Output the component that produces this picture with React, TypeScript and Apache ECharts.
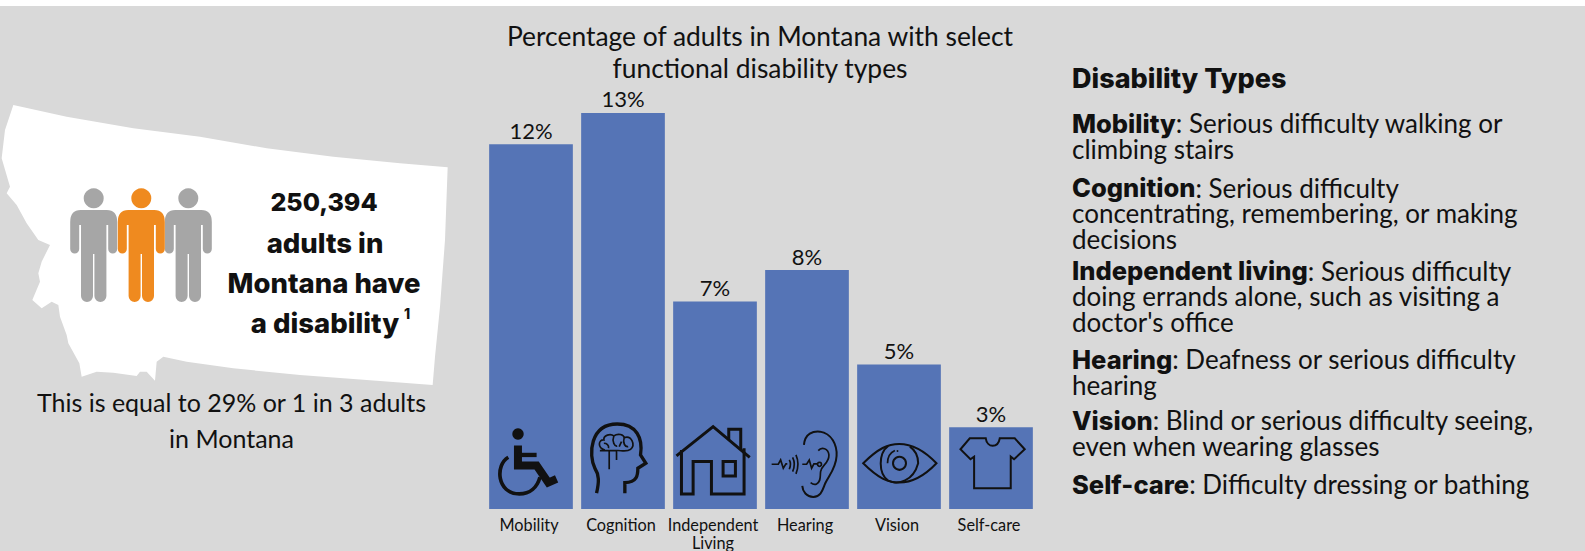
import React, { useEffect, useRef } from "react";
import * as echarts from "echarts";

const categories = ["Mobility", "Cognition", "Independent\nLiving", "Hearing", "Vision", "Self-care"];
const percentages = [12, 13, 7, 8, 5, 3];
const titleLines = ["Percentage of adults in Montana with select", "functional disability types"];
const statLines = ["250,394", "adults in", "Montana have", "a disability"];
const noteLines = ["This is equal to 29% or 1 in 3 adults", "in Montana"];
const definitions: [string, string, string[], number][] = [
  ["Mobility", ": Serious difficulty walking or", ["climbing stairs"], 136],
  ["Cognition", ": Serious difficulty", ["concentrating, remembering, or making", "decisions"], 213.4],
  ["Independent living", ": Serious difficulty", ["doing errands alone, such as visiting a", "doctor's office"], 296.1],
  ["Hearing", ": Deafness or serious difficulty", ["hearing"], 372],
  ["Vision", ": Blind or serious difficulty seeing,", ["even when wearing glasses"], 433],
  ["Self-care", ": Difficulty dressing or bathing", [], 484],
];

const LIGHT = "Lato";
const BOLD = "Inter";
const INK = "#111111";

const montana = [[40,45],[200,80],[400,115],[600,140],[800,175],[1000,200],[1200,220],[1343,232],[1335,450],[1320,650],[1305,800],[1298,885],[1100,870],[900,855],[700,835],[560,815],[490,800],[470,815],[465,872],[440,845],[420,845],[410,858],[340,848],[290,845],[245,860],[238,820],[205,760],[200,735],[180,680],[175,645],[155,635],[125,655],[97,630],[120,575],[115,550],[125,515],[150,465],[115,450],[80,400],[50,345],[20,310],[30,290],[5,205],[15,120]];

const shapes: Record<string, string> = {
  person: "M-13,0 H13 Q23.5,0 23.5,12 V39 A4.5,4.5 0 0 1 14.5,39 V15 H12.7 V86 A6,6 0 0 1 0.7,86 V44 H-0.7 V86 A6,6 0 0 1 -12.7,86 V15 H-14.5 V39 A4.5,4.5 0 0 1 -23.5,39 V12 Q-23.5,0 -13,0 Z",
  chairBody: "M114,137 V197 H170 L205,248 L230,237",
  chairArm: "M114,165 H170",
  chairWheel: "M85,172 C45,195 50,282 118,282 C150,282 172,262 180,232",
  brainHead: "M350,280 C358,245 358,225 345,205 C325,165 330,72 412,72 C470,72 490,115 482,165 L498,190 L474,205 C474,225 472,248 435,248 V280",
  brainLines: "M375,150 C352,145 355,118 372,120 C370,105 392,100 402,108 C415,98 432,105 433,113 C455,105 468,135 452,148 C440,158 420,150 410,152 H360 M388,208 V152 M410,180 V152 M402,108 C395,125 405,140 412,138 M433,113 C428,130 436,142 445,140 M372,130 C380,130 388,135 386,145 M425,125 L418,140",
  roof: "M590,168 L700,80 L810,172",
  chimney: "M747,118 V88 H783 V150",
  walls: "M605,150 V282 H640 V185 H695 V282 H793 V145",
  window: "M730,185 H767 V228 H730 Z",
  earOuter: "M162,135 C165,100 190,93 210,95 C245,100 262,135 260,168 C258,205 238,225 226,250 C218,268 215,290 190,291 C170,291 158,275 157,258",
  earInner: "M205,152 C215,140 235,145 237,165 C238,190 215,195 212,215 C210,230 214,245 200,252 C193,256 187,252 182,248",
  earSound: "M65,193 H85 L92,180 L100,205 L108,192 H112 M118,180 Q125,192 118,208 M128,172 Q138,192 128,215 M138,165 Q150,192 138,222 M157,193 H170 L178,180 L185,205 L192,192 H203",
  eyeLid: "M340,190 C385,145 415,132 448,132 C485,132 520,148 560,190 C520,232 485,248 448,248 C415,248 385,235 340,190 Z",
  eyeIris: "M415,138 C385,160 385,222 415,242 C445,255 490,245 505,190 C505,165 495,150 480,140",
  eyeGlint: "M413,190 C413,170 422,158 435,152",
  shirt: "M660,115 H708 C712,145 745,145 750,115 H795 L825,148 L793,178 L783,170 V265 H673 V170 L662,178 L632,148 Z",
};
for (const name of Object.keys(shapes)) {
  echarts.graphic.registerShape(name, echarts.graphic.extendPath(shapes[name] as any, {}));
}

const TOP = 10;

function text(t: string, x: number, y: number, size: number, weight: number, align: string = "center", fill: string = INK) {
  return { type: "text", z: TOP, x, y, style: { text: t, x: 0, y: 0, fill, font: `${weight} ${size}px ${weight > 500 ? BOLD : LIGHT}`, align, verticalAlign: "middle" } };
}
function stroke(name: string, ox: number, lw: number) {
  return { type: name, z: TOP, x: ox, y: 400, scaleX: 1 / 3, scaleY: 1 / 3, style: { fill: "none", stroke: "#111111", lineWidth: lw, lineJoin: "miter" } };
}
function dot(cx: number, cy: number, r: number, fill = "#111111") {
  return { type: "circle", z: TOP, shape: { cx, cy, r }, style: { fill } };
}
function ringDot(cx: number, cy: number, r: number, lw: number) {
  return { type: "circle", z: TOP, shape: { cx, cy, r }, style: { fill: "none", stroke: "#111111", lineWidth: lw } };
}
function person(cx: number, fill: string) {
  return [dot(cx, 198.3, 10, fill), { type: "person", z: TOP, x: cx, y: 210, style: { fill } }];
}

export default function App() {
  const ref = useRef<HTMLDivElement>(null);
  useEffect(() => {
    document.body.style.margin = "0";
    const chart = echarts.init(ref.current!, null, { renderer: "svg" });
    chart.setOption({
      animation: false,
      backgroundColor: "#ffffff",
      grid: { left: 485, width: 552, top: 81.5, height: 428.5 },
      xAxis: {
        type: "category",
        data: categories,
        axisLine: { show: false },
        axisTick: { show: false },
        axisLabel: { interval: 0, margin: 6, fontFamily: LIGHT, fontWeight: 400, fontSize: 16.3, lineHeight: 18, color: INK, verticalAlign: "top", padding: [0, 4, 0, 0] },
      },
      yAxis: { type: "value", min: 0.4, max: 14, show: false },
      series: [{
        type: "bar",
        z: 3,
        data: percentages,
        barWidth: 83.7,
        itemStyle: { color: "#5574b6" },
        label: { show: true, position: "top", distance: 3, formatter: "{c}%", fontFamily: LIGHT, fontWeight: 400, fontSize: 22, color: INK },
      }],
      graphic: [
        { type: "rect", z: 0, silent: true, shape: { x: 0, y: 6, width: 1585, height: 545 }, style: { fill: "#d9d9d9" } },
        { type: "polygon", z: 1, shape: { points: montana.map(([x, y]) => [x / 3, y / 3 + 90]) }, style: { fill: "#ffffff" } },
        ...person(93.7, "#a6a6a6"), ...person(188.3, "#a6a6a6"), ...person(141.3, "#ef8a1f"),
        ...titleLines.map((t, i) => text(t, 760, 36 + i * 31.5, 26.4, 400)),
        text(statLines[0], 324, 202, 25, 800),
        text(statLines[1], 325, 243, 27.5, 800),
        text(statLines[2], 324, 283, 27.5, 800),
        text(statLines[3], 325, 323, 27.5, 800),
        text("1", 407, 313, 14, 800),
        ...noteLines.map((t, i) => text(t, 231.5, 402 + i * 36, 25, 400)),
        text("Disability Types", 1072, 78, 27, 800, "left"),
        ...definitions.map(([b, r, rest, y]) => ({
          type: "text", z: TOP, x: 1072, y,
          style: {
            text: [`{b|${b}}{r|${r}}`, ...rest.map((l) => `{r|${l}}`)].join("\n"),
            x: 0, y: 0, align: "left", verticalAlign: "middle",
            rich: {
              b: { font: `800 25.5px ${BOLD}`, fill: INK, lineHeight: 25.6 },
              r: { font: `400 26px ${LIGHT}`, fill: INK, lineHeight: 25.6 },
            },
          },
        })),
        dot(518, 434, 5.7),
        stroke("chairBody", 480, 24),
        stroke("chairArm", 480, 13),
        stroke("chairWheel", 480, 11),
        stroke("brainHead", 480, 10),
        stroke("brainLines", 480, 5),
        stroke("roof", 480, 9),
        stroke("chimney", 480, 9),
        stroke("walls", 480, 9),
        stroke("window", 480, 9),
        stroke("earOuter", 750, 6),
        stroke("earInner", 750, 5),
        stroke("earSound", 750, 5),
        ringDot(819.5, 464.3, 2, 1.7),
        stroke("eyeLid", 750, 6),
        stroke("eyeIris", 750, 6),
        stroke("eyeGlint", 750, 5),
        ringDot(899.5, 463.3, 6.5, 2),
        dot(897.5, 451, 0.9),
        stroke("shirt", 750, 6),
      ],
    });
    return () => chart.dispose();
  }, []);
  return <div ref={ref} style={{ position: "fixed", left: 0, top: 0, width: 1585, height: 551 }} />;
}
